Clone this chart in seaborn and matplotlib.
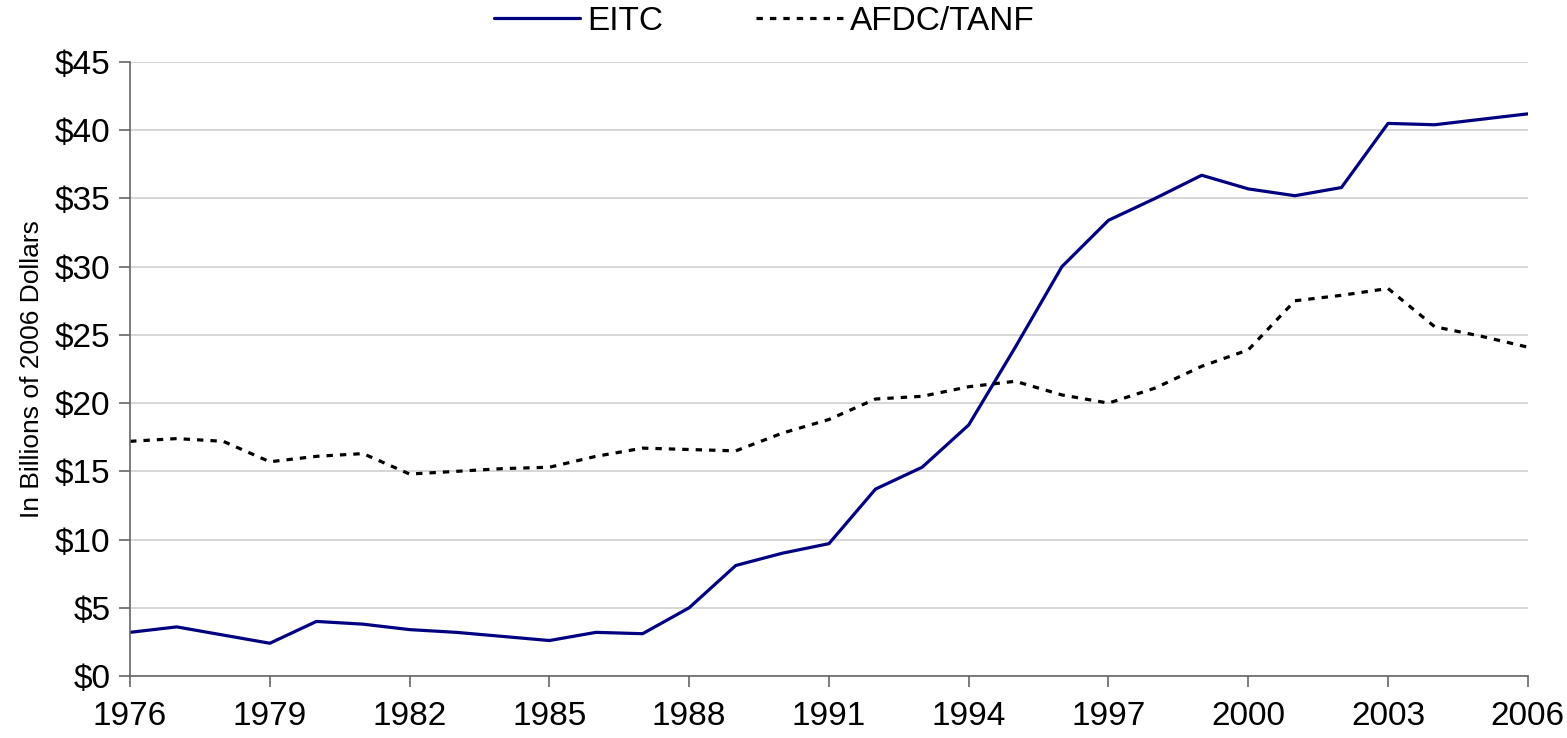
import pandas as pd
import matplotlib.pyplot as plt
import seaborn as sns

# Data (billions of 2006 dollars)
years = list(range(1976, 2007))
eitc = [3.2, 3.6, 3.0, 2.4, 4.0, 3.8, 3.4, 3.2, 2.9, 2.6, 3.2,
        3.1, 5.0, 8.1, 9.0, 9.7, 13.7, 15.3, 18.4, 24.1, 30.0,
        33.4, 35.0, 36.7, 35.7, 35.2, 35.8, 40.5, 40.4, 40.8, 41.2]
afdc_tanf = [17.2, 17.4, 17.2, 15.7, 16.1, 16.3, 14.8, 15.0, 15.2, 15.3, 16.1,
             16.7, 16.6, 16.5, 17.8, 18.8, 20.3, 20.5, 21.2, 21.6, 20.6,
             20.0, 21.1, 22.7, 23.9, 27.5, 27.9, 28.4, 25.6, 24.9, 24.1]
xticks = list(range(1976, 2007, 3))
yticks = list(range(0, 46, 5))

df = pd.DataFrame({"year": years, "EITC": eitc, "AFDC/TANF": afdc_tanf})
long_df = df.melt(id_vars="year", var_name="program", value_name="value")

sns.set_style("white")
plt.rcParams["font.family"] = ["Liberation Sans", "DejaVu Sans"]
plt.rcParams["text.color"] = "black"

fig = plt.figure(figsize=(15.67, 7.38), dpi=100)
ax = fig.add_axes([0.083, 0.084, 0.892, 0.832])

sns.lineplot(data=long_df, x="year", y="value", hue="program", style="program",
             palette={"EITC": "#000080", "AFDC/TANF": "black"},
             dashes={"EITC": "", "AFDC/TANF": (2, 2.2)},
             linewidth=2.3, ax=ax)

ax.set_xlim(1976, 2006)
ax.set_ylim(0, 45)
ax.set_xticks(xticks)
ax.set_yticks(yticks)
ax.set_yticklabels([f"${v}" for v in yticks])
ax.tick_params(axis="both", labelsize=24, labelcolor="black", direction="out",
               length=8, width=1.2, color="#666666", left=True, bottom=True)
ax.tick_params(axis="x", pad=10)
ax.tick_params(axis="y", pad=6)
ax.set_xlabel("")
ax.set_ylabel("In Billions of 2006 Dollars", fontsize=19, color="black", labelpad=8)
ax.grid(axis="y", color="#d0d0d0", linewidth=1.2)
ax.set_axisbelow(True)

for side in ["top", "right"]:
    ax.spines[side].set_visible(False)
for side in ["left", "bottom"]:
    ax.spines[side].set_color("#666666")
    ax.spines[side].set_linewidth(1.2)

handles, labels = ax.get_legend_handles_labels()
ax.legend(handles, labels, loc="upper center", bbox_to_anchor=(0.4535, 1.14),
          ncol=2, frameon=False, fontsize=24, handlelength=2.6,
          handletextpad=0.2, columnspacing=2.8)

fig.savefig("out.png", dpi=100)
